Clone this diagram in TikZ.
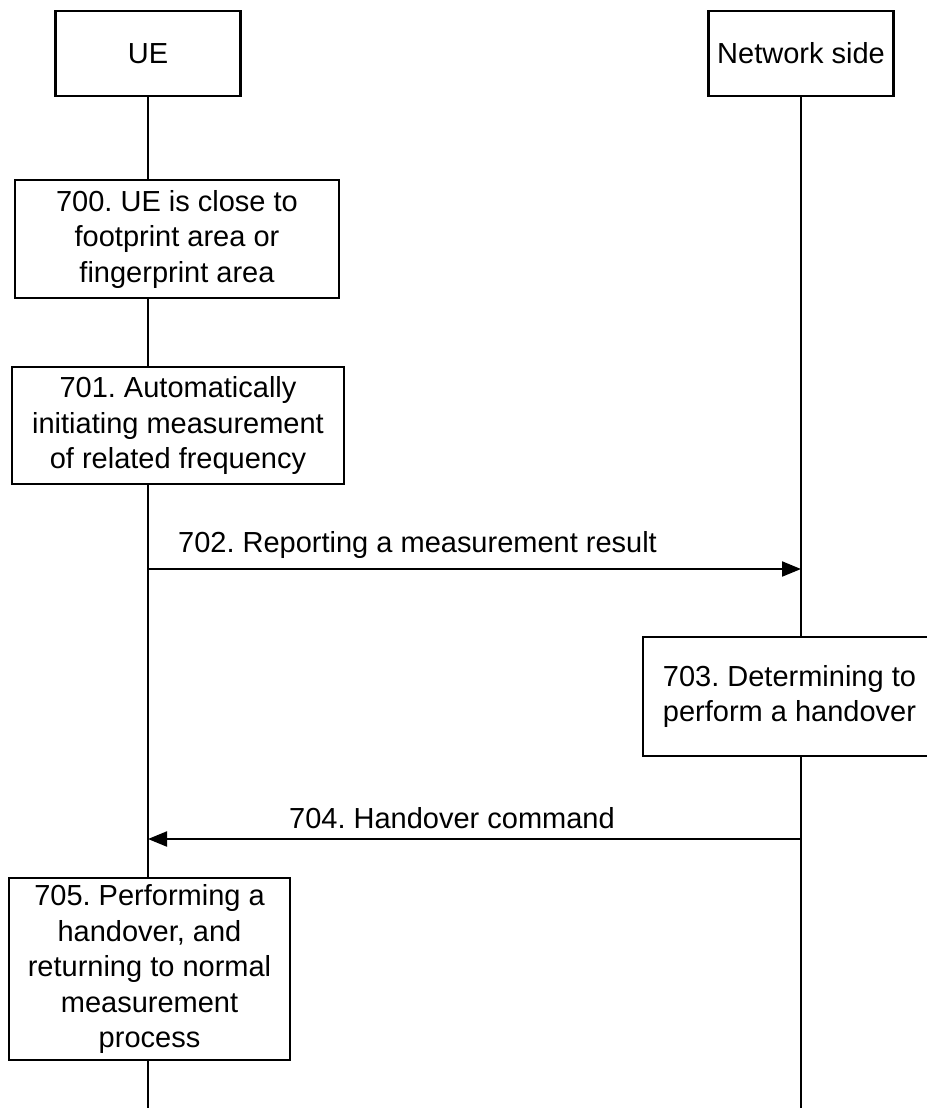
\documentclass[tikz,border=0pt]{standalone}
\usepackage{fontspec}
\setmainfont{Liberation Sans}
\usepackage{tikz}
\usetikzlibrary{arrows.meta,positioning}
\pgfdeclarelayer{edgelayer}
\pgfdeclarelayer{nodelayer}
\pgfsetlayers{edgelayer,nodelayer,main}
\frenchspacing
\tikzset{
	box/.style={draw, fill=white, line width=1.2pt, inner sep=0pt, align=center},
	life/.style={line width=1.2pt},
	msg/.style={line width=1.2pt, -{Triangle[length=3.8mm,width=3mm]}},
	every node/.style={font=\fontsize{16.5}{20.2}\selectfont},
}

\begin{document}
\begin{tikzpicture}
	\useasboundingbox (0,0) rectangle (18.54,-22.16);
	\begin{pgfonlayer}{nodelayer}
		\node [box, minimum width=3.7cm, minimum height=1.7cm] (0) at (2.96, -1.07) {UE};
		\node [box, minimum width=3.7cm, minimum height=1.7cm] (1) at (16.02, -1.07) {Network side};
		\node [box, minimum width=6.48cm, minimum height=2.36cm] (2) at (3.54, -4.78) {700. UE is close to\\footprint area or\\fingerprint area};
		\node [box, minimum width=6.64cm, minimum height=2.34cm] (3) at (3.56, -8.51) {701. Automatically\\initiating measurement\\of related frequency};
		\node [box, minimum width=5.86cm, minimum height=2.38cm] (4) at (15.79, -13.93) {703. Determining to\\perform a handover};
		\node [box, minimum width=5.62cm, minimum height=3.64cm] (5) at (2.99, -19.38) {705. Performing a\\handover, and\\returning to normal\\measurement\\process};
		\node [] (6) at (2.96, -22.16) {};
		\node [] (7) at (16.02, -22.16) {};
		\node [] (8) at (2.96, -11.38) {};
		\node [] (9) at (16.02, -11.38) {};
		\node [] (10) at (16.02, -16.78) {};
		\node [] (11) at (2.96, -16.78) {};
		\node [anchor=base west] (12) at (3.44, -11.04) {702. Reporting a measurement result};
		\node [anchor=base west] (13) at (5.66, -16.56) {704. Handover command};
	\end{pgfonlayer}
	\begin{pgfonlayer}{edgelayer}
		\draw [life] (0.south) to (6.center);
		\draw [life] (1.south) to (7.center);
		\draw [msg] (8.center) to (9.center);
		\draw [msg] (10.center) to (11.center);
	\end{pgfonlayer}
\end{tikzpicture}
\end{document}
